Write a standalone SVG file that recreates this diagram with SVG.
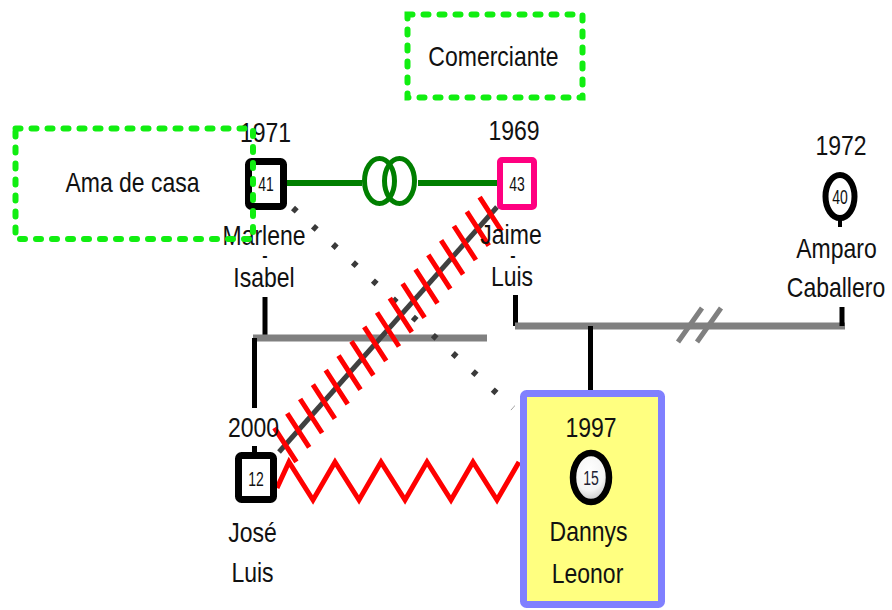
<svg xmlns="http://www.w3.org/2000/svg" width="892" height="610" viewBox="0 0 892 610">
<style>
.t{font-family:"Liberation Sans",Arial,sans-serif;font-size:23px;text-anchor:middle;fill:#111}
.d{font-family:"Liberation Sans",Arial,sans-serif;font-size:16px;font-weight:bold;text-anchor:middle;fill:#111}
.n{font-family:"Liberation Sans",Arial,sans-serif;font-size:14px;text-anchor:middle;fill:#111}
.blk{stroke:#000;stroke-width:5;fill:none}
.gry{stroke:#808080;stroke-width:7;fill:none}
.job{fill:none;stroke:#11ee11;stroke-width:6;stroke-dasharray:5 11;stroke-linecap:round}
</style>
<defs>
<radialGradient id="ball" cx="0.45" cy="0.35" r="0.7">
<stop offset="0" stop-color="#ffffff"/>
<stop offset="0.6" stop-color="#f4f4f4"/>
<stop offset="1" stop-color="#bcbcbc"/>
</radialGradient>
</defs>
<rect width="892" height="610" fill="#fff"/>

<g id="connectors">
<path class="blk" d="M265,297 V338"/>
<path class="gry" d="M253,338 H487"/>
<path class="blk" d="M254.5,338 V408"/>
<path class="blk" d="M254.5,446 V456"/>
<path class="blk" d="M515.5,295 V326"/>
<path class="gry" d="M515,326 H845"/>
<path class="blk" d="M842,307 V326"/>
<path class="blk" d="M590.5,326 V394"/>
<path d="M678,342 L702,308 M697,342 L721,308" stroke="#808080" stroke-width="5" fill="none"/>
<path d="M287,183 H362 M418,183 H497" stroke="#007f00" stroke-width="6" fill="none"/>
<ellipse cx="379.5" cy="181" rx="15" ry="22.5" stroke="#007f00" stroke-width="5" fill="none"/>
<ellipse cx="399.5" cy="181" rx="15" ry="22.5" stroke="#007f00" stroke-width="5" fill="none"/>
<path d="M293,208 L513,408" stroke="#3a3a3a" stroke-width="6" stroke-dasharray="5 22" fill="none"/>
<path d="M279,452 L497,207" stroke="#404040" stroke-width="5" fill="none"/>
<path stroke="#ff0000" stroke-width="5" fill="none" d="M274.4,427.8 l22,34 M287.2,413.4 l22,34 M300.1,399 l22,34 M312.9,384.6 l22,34 M325.7,370.1 l22,34 M338.5,355.7 l22,34 M351.4,341.3 l22,34 M364.2,326.9 l22,34 M377,312.5 l22,34 M389.8,298.1 l22,34 M402.6,283.7 l22,34 M415.5,269.3 l22,34 M428.3,254.9 l22,34 M441.1,240.4 l22,34 M453.9,226 l22,34 M466.8,211.6 l22,34 M479.6,197.2 l22,34"/>
<path d="M277,488 L289,462 L313,500 L335,462 L359,500 L381,462 L405,500 L427,462 L451,500 L473,462 L497,500 L519,462" stroke="#ff0000" stroke-width="5" fill="none" stroke-linejoin="miter"/>
</g>

<g id="marlene">
<rect x="248.5" y="161.5" width="35" height="45" rx="3" fill="#fff" stroke="#000" stroke-width="7"/>
<text class="n" transform="translate(266 191) scale(1 1.5)">41</text>
<text class="t" transform="translate(265.5 142) scale(1 1.2)">1971</text>
<text class="t" transform="translate(264 245) scale(1 1.2)">Marlene</text>
<text class="d" x="265" y="261">-</text>
<text class="t" transform="translate(264 287) scale(1 1.2)">Isabel</text>
</g>

<g id="jaime">
<rect x="500" y="160" width="34" height="47" rx="2" fill="#fff" stroke="#ff0080" stroke-width="6"/>
<text class="n" transform="translate(517 191) scale(1 1.5)">43</text>
<text class="t" transform="translate(514 140) scale(1 1.2)">1969</text>
<text class="t" transform="translate(511 244) scale(1 1.2)">Jaime</text>
<text class="d" x="513" y="261">-</text>
<text class="t" transform="translate(512 286) scale(1 1.2)">Luis</text>
</g>

<g id="amparo">
<ellipse cx="840" cy="196.5" rx="14.5" ry="21.5" fill="#fff" stroke="#000" stroke-width="6"/>
<path d="M840,218 V227" stroke="#000" stroke-width="4"/>
<text class="n" transform="translate(840 204) scale(1 1.5)">40</text>
<text class="t" transform="translate(841 155) scale(1 1.2)">1972</text>
<text class="t" transform="translate(836.5 258) scale(1 1.2)">Amparo</text>
<text class="t" transform="translate(836 297) scale(1 1.2)">Caballero</text>
</g>

<g id="jose">
<rect x="238.5" y="455.5" width="35" height="44" rx="3" fill="#fff" stroke="#000" stroke-width="7"/>
<text class="n" transform="translate(256 486) scale(1 1.5)">12</text>
<text class="t" transform="translate(253.5 437) scale(1 1.2)">2000</text>
<text class="t" transform="translate(252.5 542) scale(1 1.2)">José</text>
<text class="t" transform="translate(252.5 582) scale(1 1.2)">Luis</text>
</g>

<g id="dannys">
<rect x="523.5" y="393.5" width="138" height="211" rx="3" fill="#ffff80" stroke="#8080ff" stroke-width="7"/>
<ellipse cx="591" cy="477.5" rx="18" ry="24.5" fill="url(#ball)" stroke="#000" stroke-width="6.5"/>
<text class="n" transform="translate(591 485) scale(1 1.5)" style="fill:#223">15</text>
<text class="t" transform="translate(591 437) scale(1 1.2)">1997</text>
<text class="t" transform="translate(588.5 541) scale(1 1.2)">Dannys</text>
<text class="t" transform="translate(587.5 583) scale(1 1.2)">Leonor</text>
</g>

<g id="comerciante">
<rect class="job" x="407.5" y="14.5" width="175" height="83"/>
<text class="t" transform="translate(493.5 66) scale(1 1.2)">Comerciante</text>
</g>

<g id="ama-de-casa">
<rect class="job" x="15.5" y="128.5" width="237.5" height="110.5"/>
<text class="t" transform="translate(132.5 192) scale(1 1.2)">Ama de casa</text>
</g>
</svg>
